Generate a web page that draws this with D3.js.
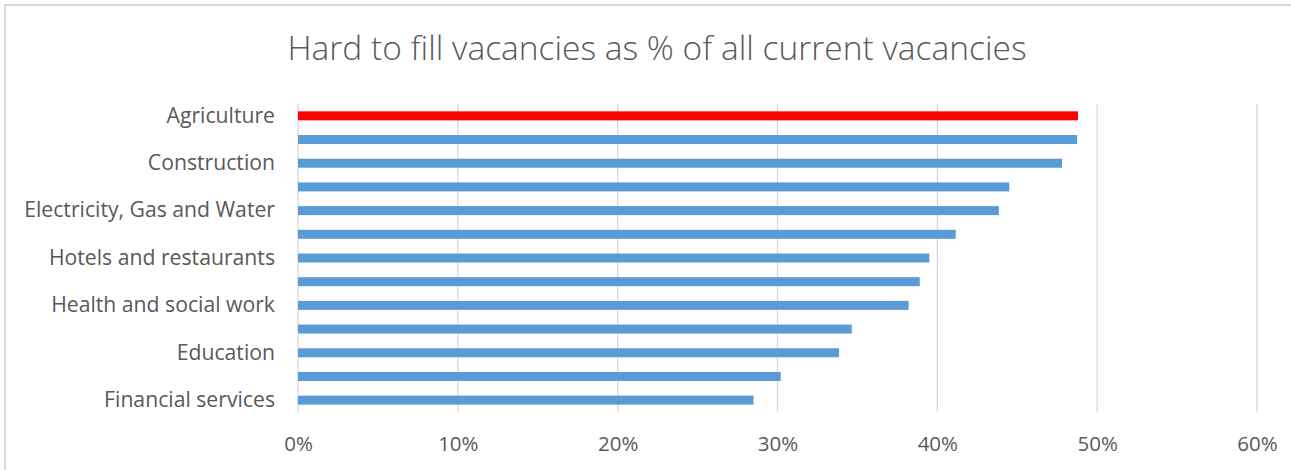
<!DOCTYPE html>
<html>
  <head>
    <meta charset="utf-8" />
    <title>Hard to fill vacancies</title>
    <style>
      html, body {
        margin: 0;
        padding: 0;
        background: #fff;
      }
      #chart {
        width: 1291px;
        height: 470px;
      }
      text {
        font-family: "Open Sans", sans-serif;
        fill: #595959;
      }
    </style>
  </head>
  <body>
    <div id="chart"></div>
    <script src="https://cdn.jsdelivr.net/npm/d3@7"></script>
    <script>
      // data, top to bottom (only every other sector is labelled on the chart)
      var sectors = [
        "Agriculture", "", "Construction", "", "Electricity, Gas and Water", "",
        "Hotels and restaurants", "", "Health and social work", "", "Education", "",
        "Financial services"
      ];
      var values = [48.8, 48.75, 47.8, 44.5, 43.85, 41.15, 39.5, 38.9, 38.2, 34.65, 33.85, 30.2, 28.5];
      var highlight = [true, false, false, false, false, false, false, false, false, false, false, false, false];
      var xTicks = [0, 10, 20, 30, 40, 50, 60];
      var title = "Hard to fill vacancies as % of all current vacancies";

      var width = 1291, height = 470;
      var margin = { top: 104, right: 34, bottom: 58, left: 298 };

      var svg = d3.select("#chart").append("svg")
        .attr("width", width)
        .attr("height", height);

      // chart frame (left + top edges show in the picture)
      svg.append("rect")
        .attr("x", 5).attr("y", 5)
        .attr("width", width + 10).attr("height", height + 10)
        .attr("fill", "none")
        .attr("stroke", "#d9d9d9")
        .attr("stroke-width", 2);

      var x = d3.scaleLinear()
        .domain([0, 60])
        .range([margin.left, width - margin.right]);

      var y = d3.scaleBand()
        .domain(d3.range(sectors.length))
        .range([margin.top, height - margin.bottom])
        .paddingInner(0.62)
        .paddingOuter(0.31);

      // gridlines
      svg.append("g")
        .selectAll("line")
        .data(xTicks)
        .join("line")
        .attr("x1", d => x(d)).attr("x2", d => x(d))
        .attr("y1", margin.top).attr("y2", height - margin.bottom)
        .attr("stroke", "#d9d9d9")
        .attr("stroke-width", 1.3);

      // bars
      svg.append("g")
        .selectAll("rect")
        .data(values)
        .join("rect")
        .attr("x", x(0))
        .attr("y", (d, i) => y(i))
        .attr("width", d => x(d) - x(0))
        .attr("height", y.bandwidth())
        .attr("fill", (d, i) => highlight[i] ? "#ff0000" : "#5b9bd5");

      // category labels
      var yAxis = svg.append("g")
        .attr("transform", "translate(" + (margin.left - 23) + ",0)")
        .call(d3.axisLeft(y).tickSize(0).tickFormat(i => sectors[i]));
      yAxis.select(".domain").remove();
      yAxis.selectAll("text")
        .attr("x", 0)
        .style("font-size", "21.2px")
        .style("font-family", null)
        .attr("fill", "#595959");

      // x tick labels
      var xAxis = svg.append("g")
        .attr("transform", "translate(0," + (height - margin.bottom) + ")")
        .call(d3.axisBottom(x).tickValues(xTicks).tickSize(0).tickPadding(24).tickFormat(d => d + "%"));
      xAxis.select(".domain").remove();
      xAxis.selectAll("text")
        .style("font-size", "20.5px")
        .style("font-family", null)
        .attr("fill", "#595959");

      // title
      svg.append("text")
        .attr("x", 657)
        .attr("y", 60)
        .attr("text-anchor", "middle")
        .style("font-size", "33.5px")
        .style("font-weight", 300)
        .text(title);
    </script>
  </body>
</html>
